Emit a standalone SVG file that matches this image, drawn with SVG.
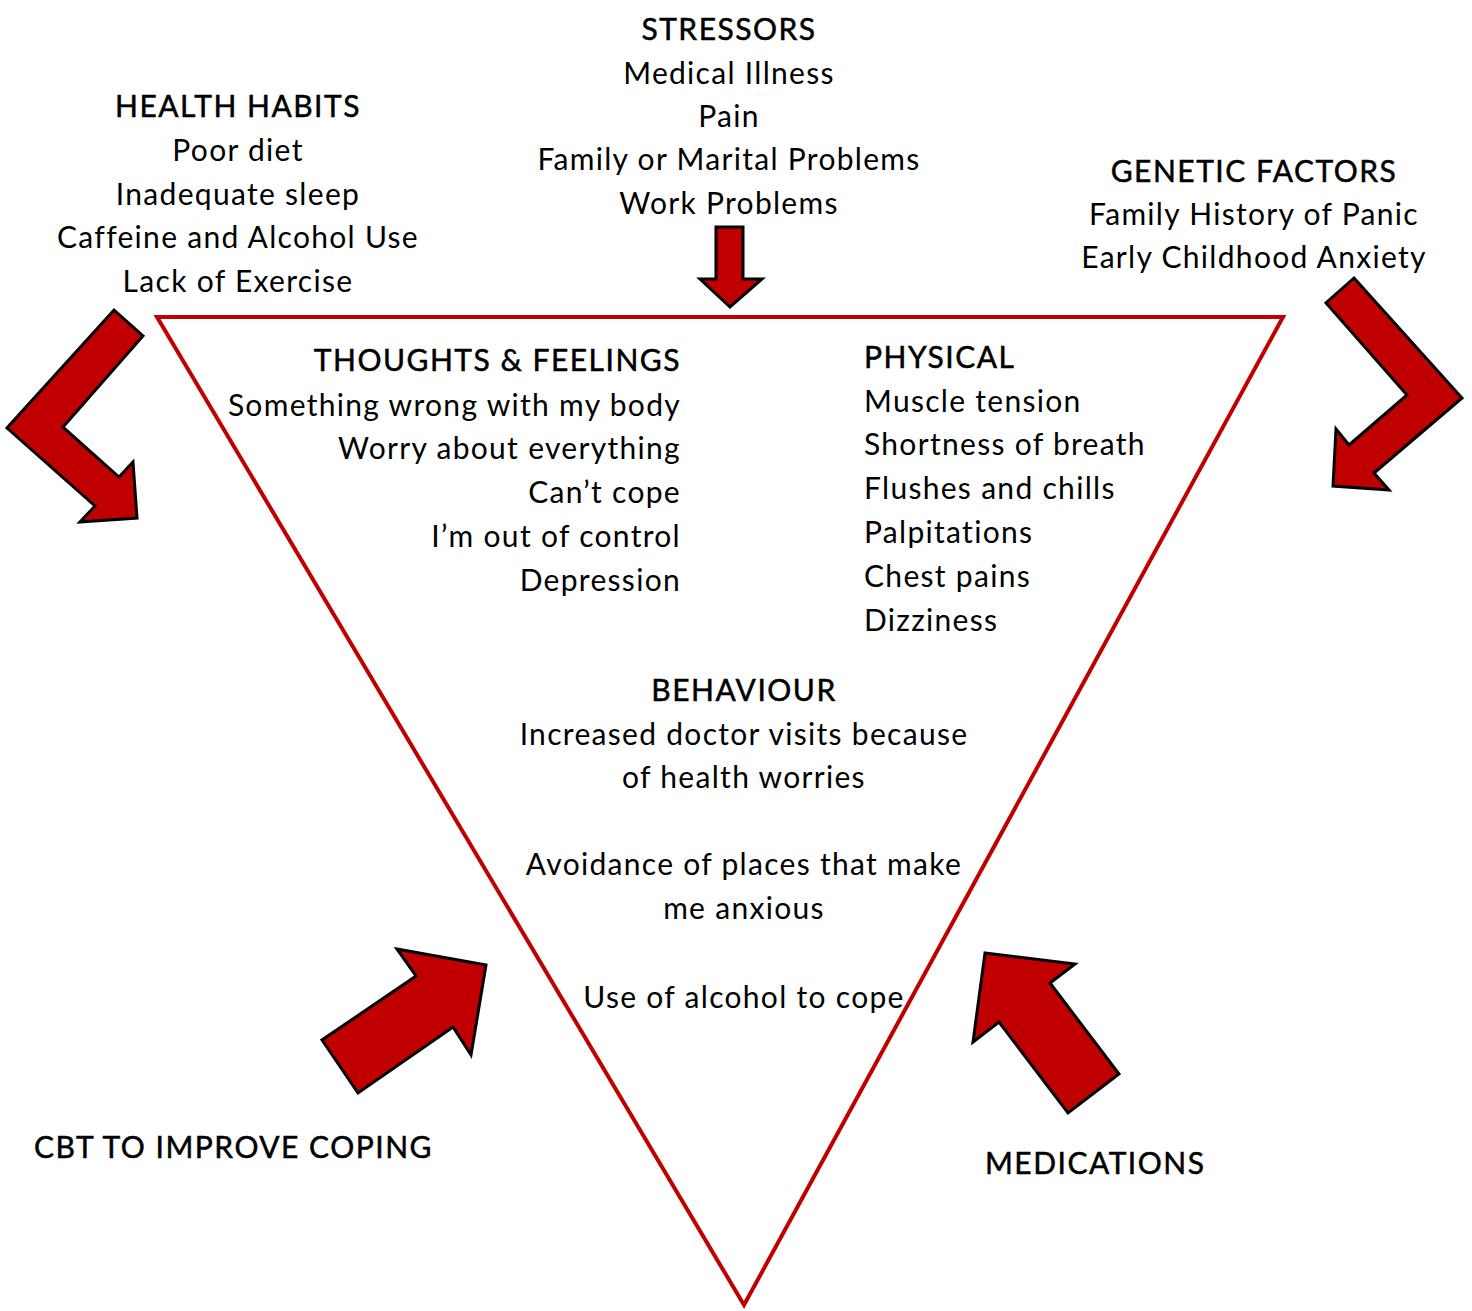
<svg xmlns="http://www.w3.org/2000/svg" width="1472" height="1311" viewBox="0 0 1472 1311">
<style>
text{font-family:Lato,"Noto Sans","DejaVu Sans",sans-serif;font-size:30px;fill:#000;letter-spacing:1.3px}
.h{letter-spacing:1.5px;stroke:#000;stroke-width:0.5px}
.c{text-anchor:middle}
.r{text-anchor:end}
.arrow{fill:#c00000;stroke:#000;stroke-width:3;stroke-linejoin:miter}
</style>
<rect width="1472" height="1311" fill="#fff"/>
<g id="triangle">
<polygon points="157,317 1283,317 744,1305" fill="none" stroke="#c00000" stroke-width="4"/>
</g>
<g id="connectors">
<polygon class="arrow" points="716,227 743,227 743,279 762,279 730,307 700,279 716,279"/>
<polygon class="arrow" points="114,310 143,336 63,427 119,477 133,462 137,518 80,522 95,506 7,428"/>
<polygon class="arrow" points="1354,278 1462,398 1374,473 1389,490 1333,486 1336,429 1349,445 1407,395 1326,303"/>
<polygon class="arrow" points="397,949 486,965 471,1055 453,1027 358,1093 322,1040 416,976"/>
<polygon class="arrow" points="985,953 1075,964 1050,983 1119,1074 1068,1113 999,1022 973,1042"/>
</g>
<g id="stressors">
<text class="c h" x="729" y="40">STRESSORS</text>
<text class="c" x="729" y="84">Medical Illness</text>
<text class="c" x="729" y="127">Pain</text>
<text class="c" x="729" y="170">Family or Marital Problems</text>
<text class="c" x="729" y="214">Work Problems</text>
</g>
<g id="health-habits">
<text class="c h" x="238" y="117">HEALTH HABITS</text>
<text class="c" x="238" y="161">Poor diet</text>
<text class="c" x="238" y="205">Inadequate sleep</text>
<text class="c" x="238" y="248">Caffeine and Alcohol Use</text>
<text class="c" x="238" y="292">Lack of Exercise</text>
</g>
<g id="genetic-factors">
<text class="c h" x="1254" y="182">GENETIC FACTORS</text>
<text class="c" x="1254" y="225">Family History of Panic</text>
<text class="c" x="1254" y="268">Early Childhood Anxiety</text>
</g>
<g id="thoughts">
<text class="r h" x="681" y="371">THOUGHTS &amp; FEELINGS</text>
<text class="r" x="681" y="416">Something wrong with my body</text>
<text class="r" x="681" y="459">Worry about everything</text>
<text class="r" x="681" y="503">Can’t cope</text>
<text class="r" x="681" y="547">I’m out of control</text>
<text class="r" x="681" y="591">Depression</text>
</g>
<g id="physical">
<text class="h" x="864" y="368">PHYSICAL</text>
<text x="864" y="412">Muscle tension</text>
<text x="864" y="455">Shortness of breath</text>
<text x="864" y="499">Flushes and chills</text>
<text x="864" y="543">Palpitations</text>
<text x="864" y="587">Chest pains</text>
<text x="864" y="631">Dizziness</text>
</g>
<g id="behaviour">
<text class="c h" x="744" y="701">BEHAVIOUR</text>
<text class="c" x="744" y="745">Increased doctor visits because</text>
<text class="c" x="744" y="788">of health worries</text>
<text class="c" x="744" y="875">Avoidance of places that make</text>
<text class="c" x="744" y="919">me anxious</text>
<text class="c" x="744" y="1008">Use of alcohol to cope</text>
</g>
<g id="cbt">
<text class="h" x="34" y="1158">CBT TO IMPROVE COPING</text>
</g>
<g id="medications">
<text class="h" x="985" y="1174">MEDICATIONS</text>
</g>
</svg>
